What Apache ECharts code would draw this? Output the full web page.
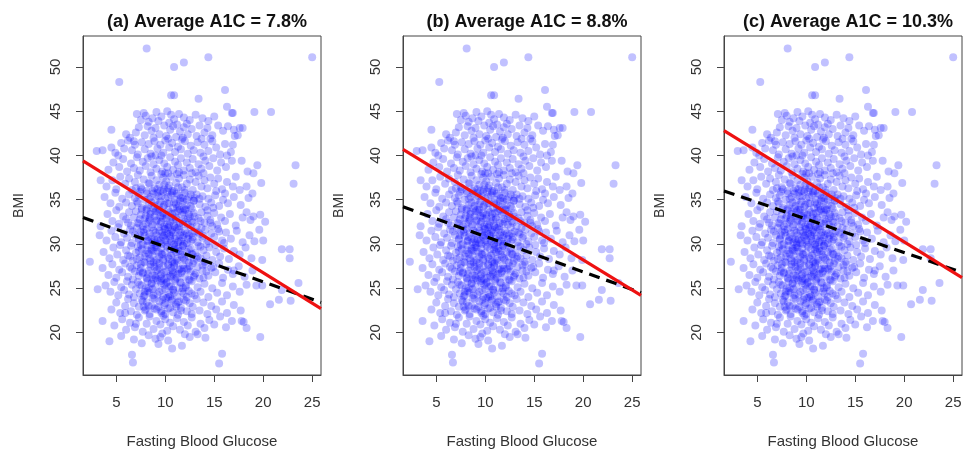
<!DOCTYPE html>
<html>
<head>
<meta charset="utf-8">
<script src="https://cdn.jsdelivr.net/npm/echarts@6/dist/echarts.min.js"></script>
<style>
  html, body { margin: 0; padding: 0; background: #fff; }
  #chartsMain { width: 965px; height: 454px; }
</style>
</head>
<body>
<div id="chartsMain"></div>
<script>
  // panel titles
  var panelTitles = ['(a) Average A1C = 7.8%', '(b) Average A1C = 8.8%', '(c) Average A1C = 10.3%'];
  var xTicks = [5, 10, 15, 20, 25];
  var yTicks = [20, 25, 30, 35, 40, 45, 50];

  // fitted lines, [glucose, bmi] at the plot edges
  var redLines = [
    [[1.6, 39.4], [25.9, 22.7]],
    [[1.6, 40.7], [25.9, 24.2]],
    [[1.6, 42.8], [25.9, 26.2]]
  ];
  var dashLines = [
    [[1.6, 33.0], [25.9, 23.4]],
    [[1.6, 34.2], [25.9, 24.5]],
    [[1.6, 36.0], [25.9, 26.8]]
  ];

  // scatter points [fasting blood glucose, BMI], same in all panels
  var ptsOutliers = [[8.1,52.1],[25.0,51.1],[14.4,51.1],[11.9,50.5],[10.9,50.0],[5.3,48.3],[16.1,47.4],[10.6,46.8],[10.9,46.8],
    [13.4,46.4],[16.3,45.5],[19.1,44.9],[20.8,44.9],[16.8,44.8],[7.1,44.7],[4.5,42.9],[17.9,43.1],[17.1,42.2],[16.9,41.2],
    [23.3,38.9],[23.1,36.8],[19.4,38.9],[19.0,38.0],[19.8,36.9],[18.9,35.7],[18.3,33.6],[19.0,33.1],[19.7,33.3],[20.2,32.5],
    [21.9,29.4],[22.7,29.4],[22.7,28.4],[19.9,28.2],[23.6,25.6],[22.8,23.6],[21.9,24.8],[21.6,23.7],[20.7,23.2],[19.7,19.5],
    [15.8,17.6],[15.5,16.5],[18.3,20.5],[17.8,21.3],[6.6,17.5],[6.7,16.6],[4.3,19.0],[3.6,21.3],[4.8,20.8],[3.1,24.9],
    [2.3,28.0],[10.7,18.2],[11.7,18.5],[3.0,40.5],[3.6,40.6],[3.3,31.0],[3.4,32.0]];

  var ptsTop = [[7.8,44.8],[8.0,44.5],[8.7,44.2],[9.1,44.9],[9.6,44.4],[10.2,45.0],[10.6,44.6],[10.9,44.1],[11.4,44.7],
    [11.9,44.3],[12.5,44.0],[13.1,44.6],[13.8,44.2],[14.4,43.9],[8.3,43.8],[9.3,43.9],[10.4,43.7],[11.2,43.5],[12.2,43.6],
    [15.0,44.4],[7.5,44.0],[16.9,44.8],
    [6.4,42.0],[7.0,42.6],[7.3,43.2],[7.9,42.3],[8.2,43.3],[8.6,42.8],[9.0,43.1],[9.4,42.4],[9.9,43.4],[10.1,42.2],
    [10.5,42.9],[10.8,43.3],[11.1,42.1],[11.5,42.7],[11.9,43.2],[12.3,42.4],[12.7,43.0],[13.2,42.2],[13.5,43.4],[14.0,42.6],
    [14.3,43.1],[14.8,42.3],[15.4,43.4],[15.9,42.8],[16.4,43.3],[8.8,42.0],[10.3,41.9],[11.7,41.8],[13.7,41.9],[6.0,42.4],
    [17.0,42.9],[17.6,43.1],[17.4,42.3],[6.8,41.6],
    [4.9,40.3],[5.5,41.4],[5.8,40.8],[6.2,41.7],[6.6,40.6],[6.9,41.2],[7.2,40.1],[7.6,41.5],[7.9,40.7],[8.3,41.3],
    [8.5,40.2],[8.9,41.6],[9.2,40.8],[9.5,41.2],[9.8,40.3],[10.0,41.7],[10.4,40.9],[10.7,41.4],[11.0,40.4],[11.3,41.0],
    [11.6,40.7],[12.0,41.6],[12.3,40.2],[12.6,41.1],[12.9,40.6],[13.3,41.5],[13.6,40.3],[14.0,41.2],[14.4,40.5],[14.8,41.6],
    [15.2,40.9],[15.6,40.1],[16.1,41.3],[16.7,40.4],[4.5,40.9],[5.2,40.0],[14.6,41.9],[11.8,42.0],[9.0,40.0],[16.3,40.0]];

  var ptsUpper = [[4.2,38.4],[4.7,39.2],[5.3,38.7],[5.7,39.6],[6.1,38.2],[6.5,39.1],[6.8,38.6],[7.1,39.8],[7.4,38.3],
    [7.7,39.3],[8.0,38.8],[8.2,39.7],[8.5,38.1],[8.8,39.0],[9.1,38.5],[9.4,39.5],[9.7,38.2],[9.9,39.1],[10.2,38.7],
    [10.5,39.8],[10.8,38.4],[11.0,39.3],[11.3,38.9],[11.6,39.7],[11.9,38.3],[12.2,39.2],[12.5,38.6],[12.8,39.6],[13.1,38.1],
    [13.4,39.0],[13.7,38.5],[14.1,39.4],[14.5,38.8],[14.9,39.7],[15.3,38.3],[15.7,39.2],[16.2,38.7],[16.8,39.4],[17.8,39.4],
    [18.4,38.2],[10.0,38.0],[11.4,38.1],[12.7,38.0],[8.6,39.9],[13.9,39.9],[9.6,40.0],
    [4.0,36.5],[4.6,37.2],[5.0,36.2],[5.4,37.6],[5.9,36.8],[6.3,37.4],[6.6,36.1],[6.9,37.0],[7.2,37.8],[7.5,36.4],
    [7.8,37.3],[8.1,36.0],[8.3,36.9],[8.6,37.7],[8.9,36.3],[9.1,37.2],[9.4,36.7],[9.6,37.9],[9.9,36.2],[10.1,37.1],
    [10.4,36.6],[10.6,37.6],[10.9,36.0],[11.1,36.9],[11.4,37.4],[11.7,36.4],[11.9,37.8],[12.2,36.8],[12.5,37.3],[12.8,36.1],
    [13.1,37.0],[13.4,37.7],[13.7,36.5],[14.0,37.2],[14.3,36.3],[14.6,37.5],[15.0,36.8],[15.4,37.4],[15.8,36.2],[16.3,37.0],
    [16.9,36.5],[17.6,36.1],[18.3,36.5],[3.4,37.2],[10.3,38.0],[12.0,36.1],[8.7,36.0],[9.8,37.5],[11.2,37.9],[13.9,38.0],
    [7.0,36.3],[15.2,36.0],[17.2,37.6],
    [3.8,35.3],[4.4,34.6],[4.9,35.8],[5.3,34.2],[5.6,35.1],[6.0,34.7],[6.3,35.6],[6.6,34.3],[6.9,35.2],[7.1,34.8],
    [7.4,35.9],[7.6,34.1],[7.9,35.0],[8.1,35.7],[8.3,34.4],[8.5,35.3],[8.8,34.0],[9.0,34.9],[9.2,35.8],[9.4,34.5],
    [9.6,35.4],[9.8,34.2],[10.0,35.1],[10.2,35.9],[10.4,34.6],[10.6,35.5],[10.8,34.1],[11.0,35.0],[11.2,35.7],[11.4,34.3],
    [11.6,35.2],[11.8,34.8],[12.0,35.8],[12.2,34.4],[12.4,35.3],[12.7,34.0],[12.9,34.9],[13.2,35.6],[13.5,34.5],[13.8,35.4],
    [14.1,34.2],[14.4,35.1],[14.7,34.7],[15.1,35.5],[15.5,34.3],[15.9,35.0],[16.4,34.6],[17.0,35.3],[17.7,34.4],[18.5,35.2],
    [9.5,36.0],[10.7,36.0],[11.9,34.0],[13.0,35.2],[8.6,34.7],[10.3,35.3],[11.5,34.9],[12.6,35.6],[14.9,34.1],[16.1,35.7],
    [7.3,35.5],[9.9,34.4],[11.1,34.5]];

  var ptsCore = [[4.1,33.4],[4.6,32.6],[5.0,33.8],[5.3,32.3],[5.7,33.1],[6.0,32.8],[6.3,33.6],[6.5,32.1],[6.8,33.0],
    [7.0,33.7],[7.2,32.4],[7.5,33.3],[7.7,32.0],[7.9,32.9],[8.1,33.8],[8.3,32.5],[8.5,33.4],[8.7,32.2],[8.9,33.1],
    [9.1,32.7],[9.3,33.6],[9.5,32.3],[9.7,33.2],[9.9,32.0],[10.1,32.9],[10.3,33.8],[10.5,32.5],[10.7,33.4],[10.9,32.1],
    [11.1,33.0],[11.3,33.7],[11.5,32.4],[11.7,33.3],[11.9,32.8],[12.1,33.9],[12.3,32.2],[12.5,33.1],[12.7,32.6],[12.9,33.5],
    [13.2,32.0],[13.4,32.9],[13.7,33.6],[14.0,32.4],[14.3,33.2],[14.6,32.7],[15.0,33.5],[15.3,32.2],[15.7,33.0],[16.1,32.6],
    [16.6,33.4],[17.2,32.1],[17.9,33.0],[18.7,32.7],[19.6,31.6],[9.2,33.9],[10.6,33.0],[11.4,32.0],[8.0,32.3],[9.6,32.5],
    [10.2,32.2],[11.0,33.5],[12.0,32.5],[8.4,33.0],[9.8,33.5],[10.8,32.7],[11.8,33.6],[12.8,32.4],[13.6,32.6],[7.4,32.8],
    [14.8,32.0],[6.2,32.4],
    [4.0,30.4],[4.5,31.5],[4.9,30.8],[5.2,31.9],[5.5,30.2],[5.8,31.2],[6.1,30.7],[6.4,31.6],[6.6,30.1],[6.9,31.0],
    [7.1,31.8],[7.3,30.5],[7.5,31.4],[7.7,30.0],[7.9,30.9],[8.1,31.7],[8.2,30.3],[8.4,31.2],[8.6,30.6],[8.8,31.5],
    [9.0,30.1],[9.1,31.0],[9.3,31.9],[9.5,30.4],[9.7,31.3],[9.8,30.8],[10.0,31.7],[10.2,30.2],[10.4,31.1],[10.5,30.6],
    [10.7,31.6],[10.9,30.0],[11.1,30.9],[11.2,31.8],[11.4,30.4],[11.6,31.3],[11.8,30.7],[12.0,31.5],[12.2,30.1],[12.4,31.0],
    [12.6,31.9],[12.8,30.5],[13.0,31.4],[13.3,30.2],[13.5,31.1],[13.8,30.7],[14.1,31.6],[14.4,30.3],[14.7,31.2],[15.0,30.8],
    [15.4,31.7],[15.8,30.4],[16.2,31.3],[16.7,30.6],[17.3,31.5],[17.9,30.2],[18.6,31.0],[19.1,30.3],[20.0,30.4],[8.9,30.5],
    [9.9,31.0],[10.6,30.3],[11.5,31.0],[12.3,30.6],[8.3,30.8],[9.4,31.5],[10.3,31.9],[11.3,30.2],[12.7,31.2],[13.7,31.8],
    [7.8,31.3],[9.6,30.0],[10.8,31.3],[11.9,30.0],[6.7,31.4],[14.2,30.0],[16.0,30.1],
    [3.7,29.1],[4.3,28.4],[4.7,29.6],[5.1,28.8],[5.4,29.9],[5.7,28.2],[6.0,29.3],[6.2,28.7],[6.5,29.8],[6.7,28.1],
    [7.0,29.0],[7.2,29.7],[7.4,28.5],[7.6,29.4],[7.8,28.0],[8.0,28.9],[8.2,29.8],[8.4,28.4],[8.6,29.3],[8.7,28.7],
    [8.9,29.6],[9.1,28.2],[9.3,29.1],[9.4,28.6],[9.6,29.5],[9.8,28.1],[10.0,29.0],[10.1,29.9],[10.3,28.5],[10.5,29.4],
    [10.7,28.0],[10.8,28.9],[11.0,29.7],[11.2,28.3],[11.4,29.2],[11.6,28.8],[11.8,29.8],[12.0,28.2],[12.2,29.1],[12.4,28.6],
    [12.6,29.5],[12.9,28.1],[13.1,29.0],[13.4,29.8],[13.6,28.4],[13.9,29.3],[14.2,28.7],[14.5,29.6],[14.8,28.2],[15.2,29.1],
    [15.6,28.6],[16.0,29.5],[16.5,28.3],[17.0,29.2],[17.6,28.8],[18.2,29.6],[18.8,28.4],[9.0,29.9],[10.4,28.3],[11.1,29.1],
    [12.7,28.9],[8.5,28.1],[9.7,28.8],[10.9,29.4],[11.7,28.5],[8.1,29.3],[13.3,28.6],[7.3,29.2],[14.0,28.0],[6.4,28.6]];

  // extra overlapping points in the darkest part of the cloud
  var ptsDense = [[7.6,33.9],[8.3,35.1],[9.4,27.3],[10.8,24.9],[11.6,29.2],[8.9,22.7],[9.7,30.9],[10.2,34.6],[7.9,28.6],
    [11.3,36.4],[12.4,27.9],[8.6,31.9],[9.2,24.3],[10.5,22.8],[11.8,32.3],[7.3,30.6],[8.1,26.2],[9.9,36.7],[10.9,29.9],
    [12.1,23.6],[7.7,23.5],[8.8,29.2],[9.5,33.1],[10.3,27.6],[11.5,25.7],[12.6,30.3],[8.4,36.8],[9.1,32.6],[10.6,31.4],
    [11.1,22.9],[7.5,27.7],[8.2,24.7],[9.6,26.1],[10.1,33.3],[11.9,28.4],[12.9,34.9],[8.7,30.2],[9.3,35.4],[10.4,25.2],
    [11.4,31.6],[7.2,34.6],[8.0,22.6],[9.8,28.3],[10.7,35.8],[11.7,24.6],[12.3,32.9],[8.5,27.4],[9.0,33.7],[10.0,23.3],
    [11.0,30.6],[7.4,25.4],[8.9,34.3],[9.6,22.4],[10.6,28.7],[11.2,34.1],[12.5,25.9],[7.8,31.6],[8.3,28.9],[9.2,30.5],
    [10.3,36.3],[11.5,27.2],[12.2,31.2],[8.6,25.6],[9.4,33.9],[10.8,26.6],[11.8,35.2],[7.1,28.3],[8.0,33.2],[9.7,24.8],
    [10.2,29.7],[11.3,23.4],[12.8,28.8],[7.6,36.2],[8.8,27.9],[9.9,31.7],[11.0,26.0],[12.0,33.8],[13.1,26.7],[7.9,24.2],
    [9.1,29.6],[10.5,33.6],[11.6,30.3],[8.4,32.7],[9.5,25.8],[10.9,34.7],[12.4,29.4],[7.5,29.9],[8.7,23.9],[9.8,35.9],
    [11.2,28.1],[12.7,24.4],[13.4,31.3],[8.2,30.4],[9.3,22.9],[10.4,32.1],[11.7,26.9],[13.0,33.1],[7.7,26.8],[9.0,31.3],
    [10.1,25.6],[11.4,35.5],[12.3,27.1],[13.6,29.7],[8.5,33.6],[9.6,28.9],[10.7,23.7],[11.9,31.0],[14.2,26.9],[7.3,32.3],
    [8.9,26.4],[10.0,30.4],[11.1,32.8],[12.6,34.3],[13.8,27.6],[8.1,34.0],[9.4,30.1],[10.6,26.3],[11.8,29.8],[14.6,32.4],
    [7.8,22.9],[9.2,36.2],[10.3,24.0],[11.5,33.9],[12.9,26.3],[15.1,29.9],[8.6,29.5],[9.8,32.9],[10.9,27.8],[12.1,25.1],
    [13.5,35.1],[14.9,27.4],[8.3,25.0],[9.5,34.8],[10.5,30.9],[11.6,22.5],[12.8,30.8],[14.3,33.8],[7.4,31.0],[9.1,27.0],
    [10.2,31.2],[11.3,29.5],[12.2,35.0],[13.2,28.3],[15.5,31.4],[8.8,35.7],[9.9,26.8],[11.0,31.9],[12.4,33.4],[13.9,30.9]];

  var ptsLower = [[3.6,27.3],[4.2,26.5],[4.6,27.7],[5.0,26.2],[5.3,27.1],[5.6,26.8],[5.9,27.8],[6.2,26.3],[6.4,27.4],
    [6.7,26.0],[6.9,26.9],[7.1,27.6],[7.3,26.4],[7.5,27.3],[7.7,26.7],[7.9,27.9],[8.1,26.1],[8.3,27.0],[8.5,27.7],
    [8.7,26.5],[8.9,27.4],[9.0,26.2],[9.2,27.1],[9.4,27.8],[9.6,26.6],[9.8,27.5],[9.9,26.0],[10.1,26.9],[10.3,27.7],
    [10.5,26.4],[10.6,27.3],[10.8,26.8],[11.0,27.9],[11.2,26.2],[11.4,27.1],[11.6,26.7],[11.8,27.6],[12.0,26.3],[12.2,27.2],
    [12.4,26.0],[12.6,26.9],[12.8,27.8],[13.0,26.5],[13.3,27.4],[13.5,26.1],[13.8,27.0],[14.1,27.7],[14.4,26.4],[14.7,27.3],
    [15.1,26.8],[15.5,27.8],[15.9,26.2],[16.4,27.1],[16.9,26.6],[17.5,27.5],[18.1,26.3],[18.9,27.0],[17.0,27.0],[8.2,26.6],
    [9.5,26.4],[10.7,27.0],[11.9,27.2],[9.1,27.9],[10.2,26.2],[11.3,26.6],[12.5,27.5],[7.4,26.9],[13.9,26.2],[8.8,26.0],
    [10.9,27.5],[6.6,27.2],
    [3.9,25.3],[4.4,24.6],[4.8,25.7],[5.2,24.2],[5.5,25.1],[5.8,24.8],[6.1,25.8],[6.3,24.3],[6.6,25.4],[6.8,24.0],
    [7.0,24.9],[7.2,25.7],[7.4,24.4],[7.6,25.3],[7.8,24.1],[8.0,25.0],[8.2,25.8],[8.4,24.5],[8.6,25.5],[8.8,24.2],
    [9.0,25.1],[9.2,25.9],[9.4,24.6],[9.6,25.6],[9.8,24.0],[10.0,24.9],[10.2,25.7],[10.4,24.3],[10.6,25.2],[10.8,24.8],
    [11.0,25.8],[11.2,24.1],[11.4,25.0],[11.6,25.6],[11.9,24.4],[12.1,25.3],[12.4,24.7],[12.7,25.8],[13.0,24.2],[13.3,25.1],
    [13.6,24.6],[14.0,25.5],[14.4,24.0],[14.8,25.0],[15.3,24.5],[15.8,25.6],[16.3,24.2],[16.9,25.2],[17.6,24.6],[18.3,25.4],
    [19.3,25.3],[19.9,25.3],[9.9,25.4],[10.9,24.5],[8.7,24.9],[11.8,25.0],[7.9,24.6],[12.2,24.0],[10.5,24.1]];

  var ptsBottom = [[4.5,22.6],[5.0,23.4],[5.4,22.2],[5.9,23.0],[6.2,23.8],[6.5,22.4],[6.8,23.3],[7.1,22.0],[7.3,22.9],
    [7.6,23.7],[7.9,22.5],[8.1,23.4],[8.4,22.1],[8.6,23.0],[8.9,23.8],[9.1,22.6],[9.4,23.5],[9.6,22.2],[9.9,23.1],
    [10.1,23.9],[10.3,22.7],[10.6,23.6],[10.8,22.3],[11.1,23.2],[11.3,22.0],[11.6,22.8],[11.9,23.7],[12.2,22.4],[12.5,23.3],
    [12.8,22.9],[13.2,23.8],[13.5,22.5],[13.9,23.4],[14.3,22.1],[14.7,23.0],[15.2,22.6],[15.8,23.5],[16.3,22.2],[17.0,23.1],
    [17.7,22.5],[5.9,22.2],[18.0,21.2],[10.0,22.1],[11.4,23.5],[8.3,23.0],[12.7,22.1],[9.7,23.7],
    [5.6,21.5],[6.0,20.3],[6.4,21.1],[6.9,20.6],[7.3,21.7],[7.7,20.1],[8.1,21.0],[8.4,21.8],[8.8,20.4],[9.1,21.3],
    [9.5,20.9],[9.8,21.9],[10.2,20.2],[10.5,21.1],[10.8,20.7],[11.2,21.6],[11.5,20.3],[11.9,21.2],[12.3,20.8],[12.7,21.7],
    [13.1,20.1],[13.6,21.0],[14.0,20.5],[14.5,21.4],[15.0,20.9],[15.6,21.8],[16.2,20.6],[16.8,21.3],[7.0,21.0],[10.0,21.5],
    [5.5,19.6],[6.8,19.2],[7.6,18.8],[8.3,19.7],[9.0,19.3],[9.5,19.5],[9.7,19.9],[10.3,19.1],[12.5,19.5],[13.3,19.8],
    [14.1,19.4],[9.3,18.7],[12.0,19.8]];

  var allPts = ptsOutliers.concat(ptsTop, ptsUpper, ptsCore, ptsDense, ptsLower, ptsBottom);

  var gridLeft = [83, 403, 724];
  var labelFont = 'Liberation Sans, Arial, sans-serif';

  var grids = [], xAxes = [], yAxes = [], titles = [], series = [];
  for (var i = 0; i < 3; i++) {
    grids.push({ left: gridLeft[i], top: 36, width: 238, height: 339, show: true, borderColor: '#444', borderWidth: 1, backgroundColor: 'transparent' });
    titles.push({
      text: panelTitles[i], left: gridLeft[i] + 119, top: 8, textAlign: 'center',
      textStyle: { fontFamily: labelFont, fontSize: 18, fontWeight: 'bold', color: '#111' }
    });
    xAxes.push({
      type: 'value', gridIndex: i, min: 1.6, max: 25.9,
      name: 'Fasting Blood Glucose', nameLocation: 'middle', nameGap: 59,
      nameTextStyle: { fontFamily: labelFont, fontSize: 15, color: '#333' },
      axisLine: { show: true, onZero: false, lineStyle: { color: '#444' } },
      axisTick: { show: true, length: 7, customValues: xTicks, lineStyle: { color: '#444' } },
      axisLabel: { customValues: xTicks, margin: 20, fontFamily: labelFont, fontSize: 15, color: '#333' },
      splitLine: { show: false }
    });
    yAxes.push({
      type: 'value', gridIndex: i, min: 15.2, max: 53.5,
      name: 'BMI', nameLocation: 'middle', nameGap: 57, nameRotate: 90,
      nameTextStyle: { fontFamily: labelFont, fontSize: 14, color: '#333' },
      axisLine: { show: true, onZero: false, lineStyle: { color: '#444' } },
      axisTick: { show: true, length: 7, customValues: yTicks, lineStyle: { color: '#444' } },
      axisLabel: { customValues: yTicks, rotate: 90, margin: 20, fontFamily: labelFont, fontSize: 15, color: '#333' },
      splitLine: { show: false }
    });
    series.push({
      type: 'scatter', xAxisIndex: i, yAxisIndex: i, data: allPts,
      symbolSize: 8, itemStyle: { color: 'rgba(0,0,255,0.3)' }, silent: true
    });
    series.push({
      type: 'line', xAxisIndex: i, yAxisIndex: i, data: redLines[i], symbol: 'none',
      lineStyle: { color: '#ee1111', width: 3.2 }, z: 5, silent: true
    });
    series.push({
      type: 'line', xAxisIndex: i, yAxisIndex: i, data: dashLines[i], symbol: 'none',
      lineStyle: { color: '#000', width: 3.2, type: [11, 7] }, z: 4, silent: true
    });
  }

  var myChart = echarts.init(document.getElementById('chartsMain'));
  myChart.setOption({
    animation: false,
    title: titles,
    grid: grids,
    xAxis: xAxes,
    yAxis: yAxes,
    series: series
  });
</script>
</body>
</html>
